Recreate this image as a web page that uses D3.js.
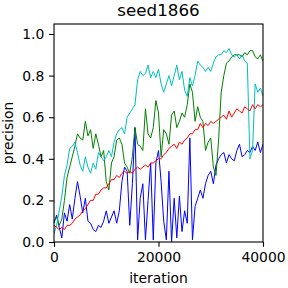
<!DOCTYPE html>
<html><head><meta charset="utf-8">
<script src="https://cdn.jsdelivr.net/npm/d3@7"></script>
<style>body{margin:0;background:#fff}svg{display:block}text{font-family:"DejaVu Sans",sans-serif;fill:#000}</style>
</head><body><svg id="c" width="288" height="288"></svg>
<script>
const title = "seed1866";
const xLabel = "iteration";
const yLabel = "precision";
const step = 500;
const xTicks = [0, 20000, 40000];
const yTicks = [0, 0.2, 0.4, 0.6, 0.8, 1.0];
const redValues = [0.08,0.07,0.06,0.07,0.06,0.08,0.08,0.09,0.11,0.12,0.13,0.15,0.16,0.18,0.20,0.20,0.23,0.23,0.25,0.26,0.26,
  0.28,0.30,0.30,0.32,0.31,0.33,0.34,0.33,0.34,0.33,0.35,0.36,0.35,0.36,0.37,0.36,0.38,0.38,0.39,0.40,
  0.40,0.42,0.43,0.45,0.46,0.47,0.45,0.48,0.47,0.49,0.50,0.52,0.52,0.54,0.54,0.57,0.55,0.57,0.56,0.58,
  0.57,0.58,0.59,0.60,0.61,0.59,0.63,0.60,0.62,0.64,0.63,0.62,0.65,0.64,0.63,0.66,0.64,0.66,0.65,0.66];
const blueValues = [0.09,0.13,0.07,0.02,0.14,0.10,0.18,0.11,0.21,0.29,0.22,0.14,0.21,0.10,0.09,0.06,0.05,0.08,0.07,0.10,0.15,
  0.09,0.12,0.15,0.09,0.15,0.29,0.36,0.34,0.08,0.28,0.55,0.01,0.21,0.28,0.01,0.20,0.38,0.01,0.38,0.44,
  0.29,0.10,0.01,0.34,0.00,0.21,0.02,0.22,0.05,0.15,0.09,0.50,0.01,0.17,0.21,0.25,0.21,0.28,0.32,0.34,
  0.28,0.37,0.40,0.42,0.43,0.38,0.42,0.40,0.39,0.44,0.47,0.41,0.42,0.44,0.43,0.46,0.44,0.48,0.43,0.47];
const greenValues = [0.10,0.12,0.08,0.11,0.20,0.31,0.36,0.41,0.46,0.52,0.50,0.49,0.58,0.51,0.54,0.45,0.52,0.47,0.41,0.44,0.29,
  0.25,0.38,0.41,0.49,0.50,0.47,0.38,0.36,0.33,0.41,0.55,0.47,0.46,0.44,0.64,0.52,0.50,0.55,0.68,0.62,
  0.41,0.54,0.52,0.47,0.61,0.63,0.55,0.58,0.62,0.60,0.66,0.76,0.72,0.58,0.65,0.60,0.58,0.44,0.48,0.50,
  0.36,0.32,0.49,0.72,0.80,0.86,0.87,0.89,0.90,0.90,0.90,0.89,0.91,0.90,0.92,0.92,0.89,0.88,0.90,0.87];
const cyanValues = [0.04,0.08,0.15,0.22,0.32,0.37,0.45,0.46,0.48,0.43,0.37,0.34,0.41,0.36,0.33,0.38,0.35,0.43,0.41,0.39,0.41,
  0.44,0.41,0.48,0.52,0.54,0.55,0.52,0.60,0.62,0.64,0.66,0.78,0.82,0.80,0.81,0.85,0.79,0.82,0.79,0.83,
  0.76,0.72,0.76,0.80,0.75,0.80,0.85,0.78,0.82,0.73,0.70,0.79,0.75,0.80,0.87,0.85,0.84,0.82,0.84,0.82,
  0.86,0.89,0.90,0.90,0.92,0.91,0.93,0.90,0.89,0.90,0.88,0.90,0.87,0.86,0.40,0.44,0.76,0.72,0.74,0.70,0.71];
const seriesNames = ["red","blue","green","cyan"];
const seriesColors = ["#ff0000","#0000ff","#008000","#00bfbf"];
const seriesData = [redValues, blueValues, greenValues, cyanValues];

const svg = d3.select("#c");
const L = 54, R = 263, T = 24, B = 242;
const x = d3.scaleLinear().domain([0, 40000]).range([L, R]);
const y = d3.scaleLinear().domain([0, 1.048]).range([B, T]);

svg.append("clipPath").attr("id","clip").append("rect")
  .attr("x", L).attr("y", T).attr("width", R-L).attr("height", B-T);

const line = d3.line().x((d,i)=>x(i*step)).y(d=>y(d));
const g = svg.append("g").attr("clip-path","url(#clip)");
[1,2,3,0].forEach(k=>{
  g.append("path").datum(seriesData[k]).attr("d", line)
    .attr("fill","none").attr("stroke", seriesColors[k]).attr("stroke-width", 1)
    .attr("stroke-linejoin","round");
});

const fs = 13.9;
const xa = svg.append("g").attr("transform",`translate(0,${B})`)
  .call(d3.axisBottom(x).tickValues(xTicks).tickFormat(d3.format("d")).tickSize(4.86).tickPadding(4.86));
const ya = svg.append("g").attr("transform",`translate(${L},0)`)
  .call(d3.axisLeft(y).tickValues(yTicks).tickFormat(d3.format(".1f")).tickSize(4.86).tickPadding(4.86));
[xa, ya].forEach(a=>{
  a.select(".domain").remove();
  a.selectAll("line").attr("stroke","#000").attr("stroke-width",1.1);
  a.selectAll("text").attr("font-size",fs).attr("font-family","DejaVu Sans").attr("fill","#000");
});
svg.append("rect").attr("x",L).attr("y",T).attr("width",R-L).attr("height",B-T)
  .attr("fill","none").attr("stroke","#000").attr("stroke-width",1.1);

svg.append("text").attr("x",(L+R)/2).attr("y",16).attr("text-anchor","middle").attr("font-size",16.7).text(title);
svg.append("text").attr("x",(L+R)/2).attr("y",283).attr("text-anchor","middle").attr("font-size",fs).text(xLabel);
svg.append("text").attr("transform",`translate(12.5,${(T+B)/2}) rotate(-90)`).attr("text-anchor","middle").attr("font-size",fs).text(yLabel);
</script></body></html>
